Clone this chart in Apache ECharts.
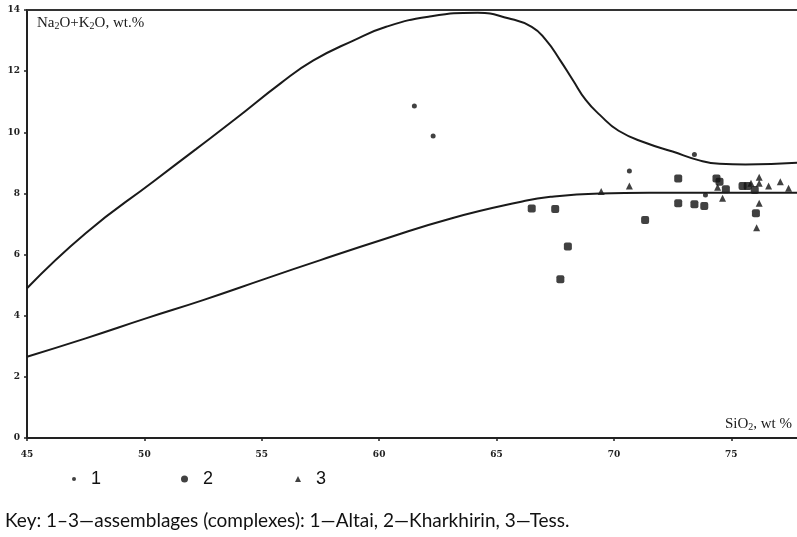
<!DOCTYPE html>
<html>
<head>
<meta charset="utf-8">
<script src="https://cdn.jsdelivr.net/npm/echarts@6/dist/echarts.min.js"></script>
<style>
  html, body { margin: 0; padding: 0; background: #fff; }
  #chart { width: 797px; height: 537px; }
</style>
</head>
<body>
<div id="chart"></div>
<script>
// boundary curves: [SiO2, Na2O+K2O]
var upperCurve = [
  [45, 4.9], [47.5, 6.7], [50.4, 8.4], [52.2, 9.45], [53.9, 10.45],
  [55.8, 11.6], [57.2, 12.35], [58.9, 13.0], [60.3, 13.45], [62.1, 13.78],
  [64.2, 13.91], [65.5, 13.73], [66.5, 13.45], [67.1, 13.02], [67.7, 12.37],
  [68.25, 11.71], [68.8, 11.06], [69.4, 10.57], [70.2, 10.05], [71.4, 9.64],
  [72.5, 9.37], [73.6, 9.09], [74.5, 8.97], [75.6, 8.95], [77.8, 9.0]
];
var lowerCurve = [
  [45, 2.66], [47.5, 3.26], [50.1, 3.92], [52.5, 4.51], [55.2, 5.22], [57.5, 5.82],
  [60.2, 6.5], [63.1, 7.19], [66.0, 7.72], [67.3, 7.89], [69.4, 8.0], [71.5, 8.02],
  [77.8, 8.02]
];

// 1 — Altai
var altai = [
  [61.5, 10.86], [62.3, 9.88], [70.66, 8.73], [73.43, 9.27], [73.9, 7.95]
];
// 2 — Kharkhirin
var kharkhirin = [
  [66.5, 7.51], [67.5, 7.49], [68.04, 6.26], [67.72, 5.19], [71.33, 7.13],
  [72.74, 8.49], [72.74, 7.68], [73.43, 7.65], [73.85, 7.59], [74.37, 8.49],
  [74.5, 8.38], [74.77, 8.14], [75.48, 8.24], [75.7, 8.24], [76.0, 8.11],
  [76.05, 7.35]
];
// 3 — Tess
var tess = [
  [69.46, 8.06], [70.66, 8.24], [74.42, 8.2], [74.63, 7.84], [75.84, 8.33],
  [76.19, 8.53], [76.19, 8.33], [76.19, 7.68], [76.08, 6.88], [76.59, 8.24],
  [77.09, 8.38], [77.44, 8.17]
];

var xMin = 45, xMax = 77.8, xStep = 5;
var yMin = 0, yMax = 14, yStep = 2;

var chart = echarts.init(document.getElementById('chart'));

var tickLabel = { fontFamily: 'DejaVu Serif', fontWeight: 'bold', fontSize: 9, color: '#222' };
var titleRich = {
  t: { fontFamily: 'Liberation Serif', fontSize: 15, color: '#1a1a1a' },
  s: { fontFamily: 'Liberation Serif', fontSize: 10, color: '#1a1a1a', verticalAlign: 'bottom', padding: [5, 0, 0, 0] }
};

function legendFor(name, icon, size, left) {
  return {
    data: [{ name: name, icon: icon }],
    left: left,
    top: 470,
    itemWidth: size,
    itemHeight: size,
    itemGap: 0,
    padding: 0,
    selectedMode: false,
    textStyle: { fontFamily: 'Liberation Sans', fontSize: 18, color: '#111', padding: [0, 0, 0, 10] },
    itemStyle: { color: '#111' }
  };
}

chart.setOption({
  animation: false,
  backgroundColor: '#fff',
  grid: { left: 27, top: 10, right: 0, bottom: 99 },
  legend: [
    legendFor('1', 'circle', 4, 72),
    legendFor('2', 'circle', 7, 181),
    legendFor('3', 'triangle', 6, 295)
  ],
  xAxis: [{
    type: 'value',
    min: xMin, max: xMax, interval: xStep,
    name: '{t|SiO}{s|2}{t|, wt %}',
    nameLocation: 'end',
    nameGap: -5,
    nameTextStyle: { align: 'right', verticalAlign: 'bottom', padding: [0, 0, 6, 0], rich: titleRich },
    axisLine: { lineStyle: { color: '#222', width: 2 } },
    axisTick: { inside: false, length: 3, lineStyle: { color: '#222', width: 1.5 } },
    splitLine: { show: false },
    axisLabel: Object.assign({ margin: 12, showMaxLabel: false }, tickLabel)
  }, {
    type: 'value', position: 'top',
    min: xMin, max: xMax,
    axisLine: { show: true, lineStyle: { color: '#333', width: 2 } },
    axisTick: { show: false }, axisLabel: { show: false }, splitLine: { show: false }
  }],
  yAxis: {
    type: 'value',
    min: yMin, max: yMax, interval: yStep,
    name: '{t|Na}{s|2}{t|O+K}{s|2}{t|O, wt.%}',
    nameLocation: 'end',
    nameGap: -21,
    nameTextStyle: { align: 'left', padding: [0, 0, 0, 10], rich: titleRich },
    axisLine: { show: true, lineStyle: { color: '#222', width: 2 } },
    axisTick: { show: true, length: 3, lineStyle: { color: '#222', width: 1.5 } },
    splitLine: { show: false },
    axisLabel: Object.assign({ margin: 7 }, tickLabel)
  },
  series: [
    {
      type: 'line', data: upperCurve, smooth: 0.5, showSymbol: false, silent: true,
      lineStyle: { color: '#1a1a1a', width: 2 }
    },
    {
      type: 'line', data: lowerCurve, smooth: 0.5, showSymbol: false, silent: true,
      lineStyle: { color: '#1a1a1a', width: 2 }
    },
    {
      name: '1', type: 'scatter', data: altai, symbol: 'circle', symbolSize: 5,
      itemStyle: { color: '#111' }
    },
    {
      name: '2', type: 'scatter', data: kharkhirin, symbol: 'roundRect', symbolSize: 8,
      itemStyle: { color: '#111' }
    },
    {
      name: '3', type: 'scatter', data: tess, symbol: 'triangle', symbolSize: 7,
      itemStyle: { color: '#111' }
    }
  ],
  graphic: [{
    type: 'text',
    left: 5, top: 511,
    style: {
      text: 'Key: 1–3—assemblages (complexes): 1—Altai, 2—Kharkhirin, 3—Tess.',
      fontFamily: 'Lato', fontSize: 19, fill: '#111'
    }
  }]
});
</script>
</body>
</html>
